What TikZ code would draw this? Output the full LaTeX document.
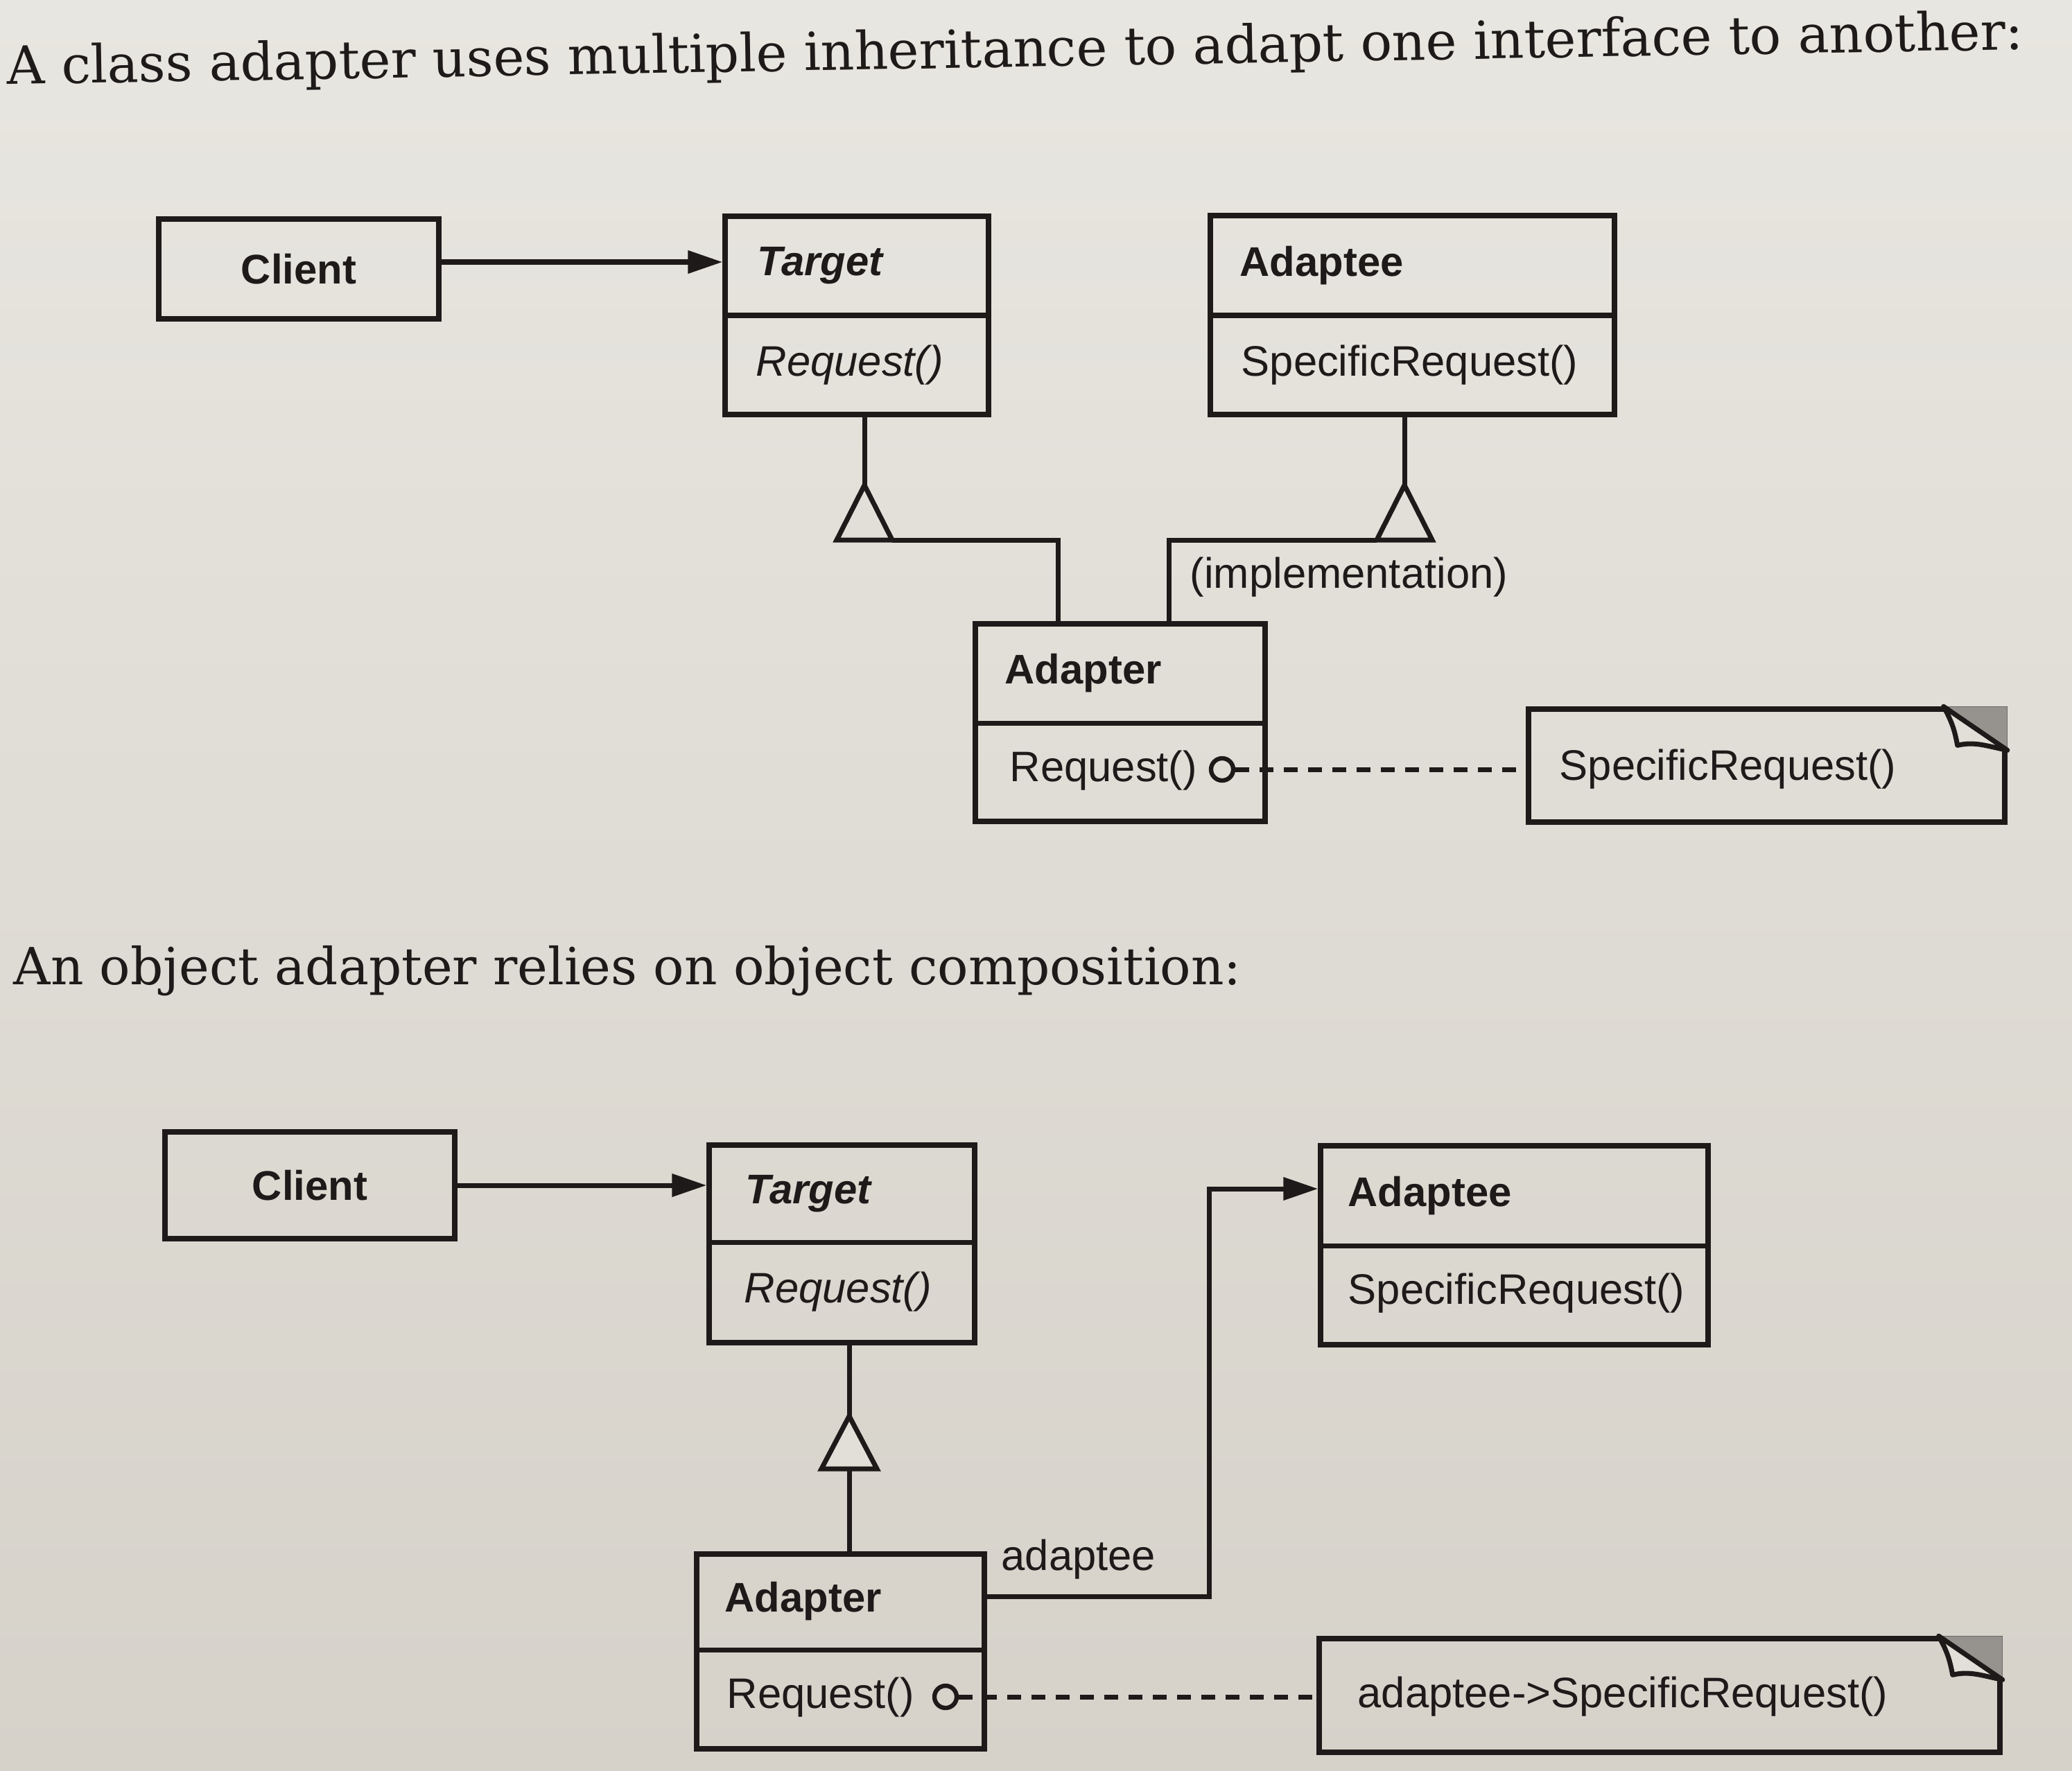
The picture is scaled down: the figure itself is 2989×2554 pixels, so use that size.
\documentclass[tikz,border=0pt]{standalone}
\usepackage{fontspec}
\setsansfont{Liberation Sans}
\newfontfamily\titlefont{DejaVu Serif}
\usetikzlibrary{arrows.meta,fit,calc}
\definecolor{papertop}{RGB}{232,230,224}
\definecolor{paperbot}{RGB}{214,210,202}
\definecolor{paper}{RGB}{226,223,216}
\definecolor{ink}{RGB}{30,26,26}
\definecolor{foldgray}{RGB}{150,147,143}
\tikzset{
  box/.style={draw=ink, line width=2.1pt, inner sep=0pt, rectangle},
  lbl/.style={font=\sffamily\fontsize{17.5pt}{20pt}\selectfont, inner sep=0pt, anchor=west, text=ink},
  bold/.style={lbl, font=\sffamily\bfseries\fontsize{17pt}{20pt}\selectfont},
  bolditalic/.style={lbl, font=\sffamily\bfseries\itshape\fontsize{17pt}{20pt}\selectfont},
  ital/.style={lbl, font=\sffamily\itshape\fontsize{17.5pt}{20pt}\selectfont},
  ttl/.style={font=\titlefont\fontsize{21.5pt}{25pt}\selectfont, inner sep=0pt, text=ink},
  conn/.style={draw=ink, line width=2pt},
  divider/.style={draw=ink, line width=2pt},
  arr/.style={conn, -{Triangle[length=0.5cm,width=0.32cm]}},
  dashline/.style={conn, dash pattern=on 0.2cm off 0.15cm},
  gen/.style={draw=ink, line width=2pt, fill=paper, line join=miter},
  lollipop/.style={circle, draw=ink, line width=1.8pt, minimum size=0.32cm, inner sep=0pt},
  flap/.style={draw=ink, line width=2pt, fill=paper, line join=round},
}
\begin{document}
\begin{tikzpicture}[x=0.01cm,y=-0.01cm]
\shade[top color=papertop, bottom color=paperbot] (0,0) rectangle (2989,2554);
\useasboundingbox (0,0) rectangle (2989,2554);

% ---------- titles ----------
\node[ttl, anchor=base west, rotate=1] (title1) at (10,122) {A class adapter uses multiple inheritance to adapt one interface to another:};
\node[ttl, font=\titlefont\fontsize{21pt}{25pt}\selectfont, anchor=base west] (title2) at (19,1420) {An object adapter relies on object composition:};

% ================= class adapter =================
\node[box, fit={(229,316) (633,460)}] (client) {};
\node[bold, anchor=center] (clientlbl) at (client.center) {Client};

\node[box, fit={(1046,312) (1426,598)}] (target) {};
\draw[divider] (1046,455) -- (1426,455);
\node[bolditalic] (targetlbl) at (1092,383) {Target};
\node[ital] (targetop) at (1090,527) {Request()};

\node[box, fit={(1746,311) (2329,598)}] (adaptee) {};
\draw[divider] (1746,455) -- (2329,455);
\node[bold] (adapteelbl) at (1788,383) {Adaptee};
\node[lbl] (adapteeop) at (1790,527) {SpecificRequest()};

\node[box, fit={(1407,900) (1825,1185)}] (adapter) {};
\draw[divider] (1407,1043) -- (1825,1043);
\node[bold] (adapterlbl) at (1449,971) {Adapter};
\node[lbl] (adapterop) at (1456,1112) {Request()};

\node[box, fit={(2205,1023) (2892,1186)}] (note1) {};
\fill[foldgray] ($(note1.north east)+(-86,0)$) -- (note1.north east) -- ($(note1.north east)+(0,62)$) -- cycle;
\draw[flap] ($(note1.north east)+(-92,0)$) .. controls +(12,22) and +(-4,-22) .. ($(note1.north east)+(-72,56)$) .. controls +(25,-6) and +(-30,-6) .. ($(note1.north east)+(0,63)$) -- cycle;
\node[lbl] (note1txt) at (2249,1110) {SpecificRequest()};

% client -> target
\coordinate (ay1) at (0,378);
\draw[arr] (client.east |- ay1) -- (target.west |- ay1);

% generalisation to Target
\coordinate (t1apex) at (1247,700);
\coordinate (j1) at (1526,779);
\draw[conn] (t1apex |- target.south) -- (t1apex);
\draw[gen] (t1apex) -- ++(40,79) -- ++(-80,0) -- cycle;
\draw[conn] ($(t1apex)+(40,79)$) -- (j1) -- (j1 |- adapter.north);

% generalisation to Adaptee
\coordinate (t2apex) at (2026,700);
\coordinate (j2) at (1686,779);
\draw[conn] (t2apex |- adaptee.south) -- (t2apex);
\draw[gen] (t2apex) -- ++(40,79) -- ++(-80,0) -- cycle;
\draw[conn] ($(t2apex)+(-40,79)$) -- (j2) -- (j2 |- adapter.north);
\node[lbl] (impl) at (1716,833) {(implementation)};

% note link
\node[lollipop] (c1) at (1763,1110) {};
\draw[dashline] (c1.east) -- (c1.east -| note1.west);

% ================= object adapter =================
\node[box, fit={(238,1633) (656,1787)}] (client2) {};
\node[bold, anchor=center] (client2lbl) at (client2.center) {Client};

\node[box, fit={(1023,1652) (1406,1937)}] (target2) {};
\draw[divider] (1023,1792) -- (1406,1792);
\node[bolditalic] (target2lbl) at (1075,1722) {Target};
\node[ital] (target2op) at (1073,1864) {Request()};

\node[box, fit={(1905,1653) (2464,1940)}] (adaptee2) {};
\draw[divider] (1905,1797) -- (2464,1797);
\node[bold] (adaptee2lbl) at (1944,1725) {Adaptee};
\node[lbl] (adaptee2op) at (1944,1866) {SpecificRequest()};

\node[box, fit={(1005,2242) (1420,2523)}] (adapter2) {};
\draw[divider] (1005,2380) -- (1420,2380);
\node[bold] (adapter2lbl) at (1045,2310) {Adapter};
\node[lbl] (adapter2op) at (1048,2449) {Request()};

\node[box, fit={(1903,2364) (2885,2528)}] (note2) {};
\fill[foldgray] ($(note2.north east)+(-86,0)$) -- (note2.north east) -- ($(note2.north east)+(0,62)$) -- cycle;
\draw[flap] ($(note2.north east)+(-92,0)$) .. controls +(12,22) and +(-4,-22) .. ($(note2.north east)+(-72,56)$) .. controls +(25,-6) and +(-30,-6) .. ($(note2.north east)+(0,63)$) -- cycle;
\node[lbl] (note2txt) at (1958,2448) {adaptee->SpecificRequest()};

% client -> target
\draw[arr] (client2.east) -- (client2.east -| target2.west);

% generalisation
\coordinate (t3apex) at (1225,2043);
\draw[conn] (t3apex |- target2.south) -- (t3apex);
\draw[gen] (t3apex) -- ++(40,76) -- ++(-80,0) -- cycle;
\draw[conn] ($(t3apex)+(0,76)$) -- (t3apex |- adapter2.north);

% association adaptee
\coordinate (as0) at (1420,2303);
\coordinate (bend) at (1744,1715);
\draw[arr] (as0 -| adapter2.east) -| (bend) -- (bend -| adaptee2.west);
\node[lbl] (adapteerole) at (1444,2250) {adaptee};

% note link
\node[lollipop] (c2) at (1364,2448) {};
\draw[dashline] (c2.east) -- (c2.east -| note2.west);
\end{tikzpicture}
\end{document}
